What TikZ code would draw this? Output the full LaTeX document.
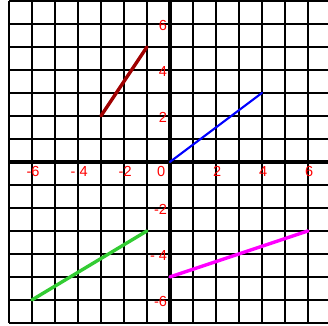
\documentclass[tikz,border=0pt]{standalone}
\usepackage{fontspec}
\setmainfont{Liberation Sans}
\usepackage{xcolor}
\usetikzlibrary{positioning}
\definecolor{segred}{HTML}{A00000}
\definecolor{seggreen}{HTML}{33CC33}
\definecolor{segmagenta}{HTML}{FF00FF}

\begin{document}
\begin{tikzpicture}[
  gridline/.style={black, line width=3pt},
  axisline/.style={black, line width=5pt},
  tick/.style={text=red, inner sep=0pt, font=\fontsize{18}{18}\selectfont},
  seg/.style={line width=4.2pt, line cap=round}
]
\useasboundingbox (-7.39,-7.09) rectangle (6.87,7.04);

% ---- Grid and axes ----
\draw[gridline] (-7,-7) grid (7,7);
\draw[axisline] (-7,0) -- (7,0);
\draw[axisline] (0,-7) -- (0,7);

% ---- Axis labels ----
\foreach \x/\t in {-6/-6,-4/- 4,-2/-2,2/2,4/4,6/6} {
  \node[tick, anchor=north] (xl\x) at (\x+0.05,-0.2) {\t};
}
\node[tick, anchor=north east] (xl0) at (-0.2,-0.2) {0};
\foreach \y/\t in {6/6,4/4,2/2,-2/-2,-4/- 4,-6/-6} {
  \node[tick, anchor=east] (yl\y) at (-0.12,\y-0.08) {\t};
}

% ---- Segments ----
\coordinate (r1) at (-3,2);
\coordinate (r2) at (-1,5);
\coordinate (b1) at (0,0);
\coordinate (b2) at (4,3);
\coordinate (g1) at (-6,-6);
\coordinate (g2) at (-1,-3);
\coordinate (m1) at (0,-5);
\coordinate (m2) at (6,-3);

\draw[seg, segred] (r1) -- (r2);
\draw[seg, blue, line width=2.6pt] (b1) -- (b2);
\draw[seg, seggreen] (g1) -- (g2);
\draw[seg, segmagenta] (m1) -- (m2);

\end{tikzpicture}
\end{document}
